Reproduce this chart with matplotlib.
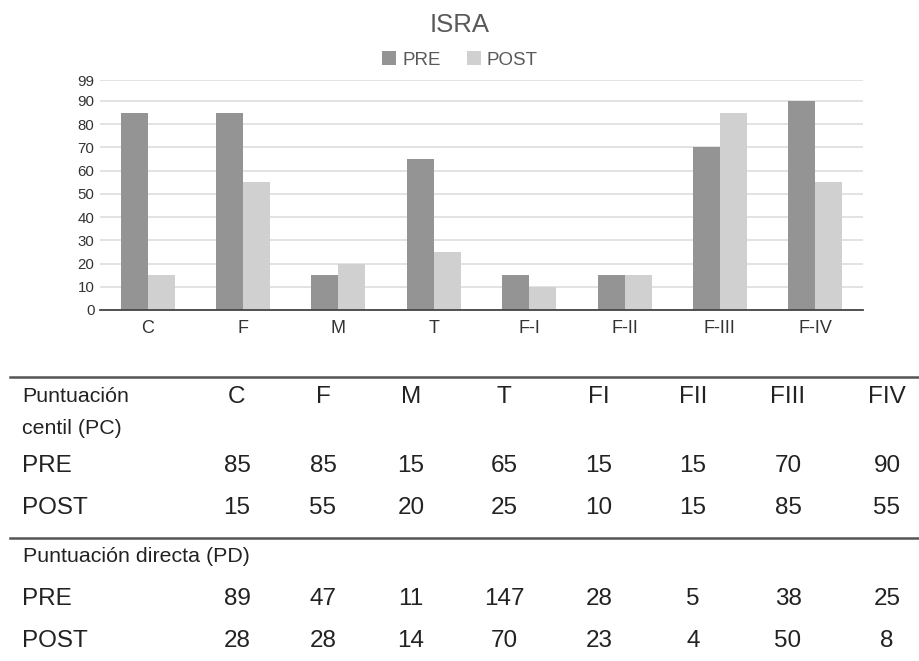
import matplotlib
matplotlib.use('Agg')
import matplotlib.pyplot as plt
import numpy as np

plt.rcParams['font.family'] = ['Liberation Sans', 'DejaVu Sans']

# datos del grafico
categorias = ['C', 'F', 'M', 'T', 'F-I', 'F-II', 'F-III', 'F-IV']
pre_pc = [85, 85, 15, 65, 15, 15, 70, 90]
post_pc = [15, 55, 20, 25, 10, 15, 85, 55]
y_ticks = [0, 10, 20, 30, 40, 50, 60, 70, 80, 90, 99]

# datos de la tabla
col_tabla = ['C', 'F', 'M', 'T', 'FI', 'FII', 'FIII', 'FIV']
pre_pd = [89, 47, 11, 147, 28, 5, 38, 25]
post_pd = [28, 28, 14, 70, 23, 4, 50, 8]

W, H = 920, 661
c_pre = '#949494'
c_post = '#d0d0d0'
c_txt = '#595959'

fig = plt.figure(figsize=(W / 100, H / 100), dpi=100)


def fx(px):
    return px / W


def fy(py):
    return 1 - py / H


ax = fig.add_axes([fx(100), fy(310), fx(863) - fx(100), fy(80) - fy(310)])
x = np.arange(len(categorias))
ancho = 0.283
ax.bar(x - ancho / 2, pre_pc, ancho, color=c_pre, label='PRE', zorder=3)
ax.bar(x + ancho / 2, post_pc, ancho, color=c_post, label='POST', zorder=3)
ax.set_xlim(-0.5, len(categorias) - 0.5)
ax.set_ylim(0, 99)
ax.set_yticks(y_ticks)
ax.set_xticks(x)
ax.set_xticklabels(categorias)
ax.grid(axis='y', color='#dedede', linewidth=1.2, zorder=0)
for s in ['top', 'right', 'left']:
    ax.spines[s].set_visible(False)
ax.spines['bottom'].set_color('#444444')
ax.spines['bottom'].set_linewidth(1.3)
ax.spines['bottom'].set_zorder(4)
ax.tick_params(axis='y', length=0, pad=4, labelsize=10.8, labelcolor='#333333')
ax.tick_params(axis='x', length=0, pad=7, labelsize=13, labelcolor='#333333')

fig.text(0.5, fy(25), 'ISRA', ha='center', va='center', fontsize=18.5, color=c_txt)
fig.legend(loc='center', bbox_to_anchor=(0.5, fy(60)), ncol=2, frameon=False,
           fontsize=13.5, handlelength=0.75, handleheight=0.75, handletextpad=0.3,
           columnspacing=1.4, labelcolor=c_txt, borderpad=0)

# tabla
negro = '#222222'
for yl in [377, 538]:
    fig.add_artist(plt.Line2D([fx(10), fx(920)], [fy(yl), fy(yl)], color='#555555', linewidth=1.8))

col_x = [237, 323, 411, 504, 599, 693, 788, 887]
fig.text(fx(22), fy(396), 'Puntuación', ha='left', va='center', fontsize=15.4, color=negro)
fig.text(fx(22), fy(428), 'centil (PC)', ha='left', va='center', fontsize=15.4, color=negro)
for cx, nom in zip(col_x, col_tabla):
    fig.text(fx(cx), fy(397), nom, ha='center', va='center', fontsize=17.5, color=negro)

filas = [('PRE', pre_pc, 466), ('POST', post_pc, 508), ('PRE', pre_pd, 599), ('POST', post_pd, 641)]
for nombre, vals, yy in filas:
    fig.text(fx(22), fy(yy), nombre, ha='left', va='center', fontsize=17.5, color=negro)
    for cx, v in zip(col_x, vals):
        fig.text(fx(cx), fy(yy), str(v), ha='center', va='center', fontsize=17.5, color=negro)

fig.text(fx(23), fy(557), 'Puntuación directa (PD)', ha='left', va='center', fontsize=15.4, color=negro)

plt.savefig('out.png', dpi=100)
plt.close()
